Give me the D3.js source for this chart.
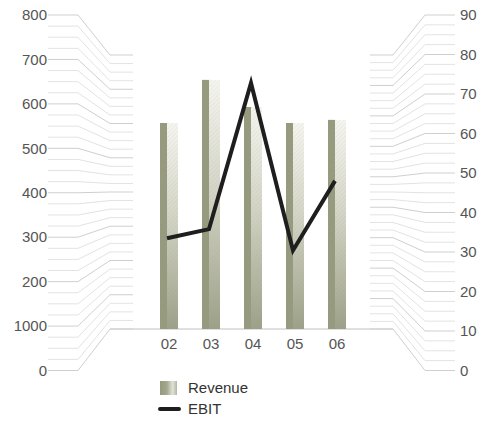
<!DOCTYPE html>
<html>
<head>
<meta charset="utf-8">
<script src="https://cdn.jsdelivr.net/npm/d3@7/dist/d3.min.js"></script>
<style>
  body { margin: 0; background: #fff; }
  text { font-family: "Liberation Sans", Arial, sans-serif; }
</style>
</head>
<body>
<script>
// chart data
const years = ["02", "03", "04", "05", "06"];
const revenue = [557, 654, 593, 557, 564];
const ebit = [33.5, 35.8, 72.8, 30.4, 48];
const leftTickLabels = ["0", "1000", "200", "300", "400", "500", "600", "700", "800"];
const rightTickLabels = ["0", "10", "20", "30", "40", "50", "60", "70", "80", "90"];

const width = 481, height = 423;

const svg = d3.select("body").append("svg")
  .attr("width", width)
  .attr("height", height);

// outer scales (where the labels sit) and inner scales (the back wall)
const yLeftOuter = d3.scaleLinear().domain([0, 800]).range([370.5, 15]);
const yLeftInner = d3.scaleLinear().domain([0, 800]).range([329, 55]);
const yRightOuter = d3.scaleLinear().domain([0, 90]).range([370.5, 15]);
const yRightInner = d3.scaleLinear().domain([0, 90]).range([329, 55]);
const x = d3.scalePoint().domain(years).range([169, 337]);

const defs = svg.append("defs");

let grad = defs.append("linearGradient")
  .attr("id", "barLight")
  .attr("x1", 0).attr("y1", 0).attr("x2", 0).attr("y2", 1);
grad.append("stop").attr("offset", "0%").attr("stop-color", "#f6f6f1");
grad.append("stop").attr("offset", "45%").attr("stop-color", "#d4d5c6");
grad.append("stop").attr("offset", "100%").attr("stop-color", "#9da189");

let hatch = defs.append("pattern")
  .attr("id", "hatch")
  .attr("width", 3).attr("height", 3)
  .attr("patternUnits", "userSpaceOnUse")
  .attr("patternTransform", "rotate(45)");
hatch.append("line")
  .attr("x1", 0).attr("y1", 0).attr("x2", 0).attr("y2", 3)
  .attr("stroke", "#8c9075")
  .attr("stroke-opacity", 0.18)
  .attr("stroke-width", 1);

let legGrad = defs.append("linearGradient")
  .attr("id", "legendGrad")
  .attr("x1", 0).attr("y1", 0).attr("x2", 1).attr("y2", 0);
legGrad.append("stop").attr("offset", "0%").attr("stop-color", "#959a7d");
legGrad.append("stop").attr("offset", "40%").attr("stop-color", "#a4a78e");
legGrad.append("stop").attr("offset", "75%").attr("stop-color", "#e2e3d8");
legGrad.append("stop").attr("offset", "100%").attr("stop-color", "#b3b69f");

// bent gridlines, left side
const leftTicks = d3.range(0, 801, 25);
svg.append("g").selectAll("path")
  .data(leftTicks)
  .join("path")
  .attr("fill", "none")
  .attr("stroke", d => d % 100 == 0 ? "#cfcfcf" : "#e3e3e3")
  .attr("stroke-width", 1)
  .attr("d", d => "M48," + yLeftOuter(d) + "H78L110," + yLeftInner(d) + "H133");

svg.append("g").selectAll("text")
  .data(leftTickLabels)
  .join("text")
  .attr("x", 47)
  .attr("y", (d, i) => yLeftOuter(i * 100))
  .attr("dy", "0.35em")
  .attr("text-anchor", "end")
  .attr("font-size", 15)
  .attr("fill", "#555")
  .text(d => d);

// bent gridlines, right side
const rightTicks = d3.range(0, 90.1, 2.5);
svg.append("g").selectAll("path")
  .data(rightTicks)
  .join("path")
  .attr("fill", "none")
  .attr("stroke", d => d % 10 == 0 ? "#cfcfcf" : "#e3e3e3")
  .attr("stroke-width", 1)
  .attr("d", d => "M370," + yRightInner(d) + "H393L425," + yRightOuter(d) + "H455");

svg.append("g").selectAll("text")
  .data(rightTickLabels)
  .join("text")
  .attr("x", 460)
  .attr("y", (d, i) => yRightOuter(i * 10))
  .attr("dy", "0.35em")
  .attr("font-size", 15)
  .attr("fill", "#555")
  .text(d => d);

// floor line
svg.append("line")
  .attr("x1", 110).attr("x2", 393)
  .attr("y1", yLeftInner(0)).attr("y2", yLeftInner(0))
  .attr("stroke", "#d6d6d6")
  .attr("stroke-width", 1.5);

// bars
const barW = 18, darkW = 7;
const base = yLeftInner(0);
const bars = svg.append("g").selectAll("g")
  .data(years.map((y, i) => ({ year: y, value: revenue[i] })))
  .join("g")
  .attr("transform", d => "translate(" + (x(d.year) - barW / 2) + ",0)");

bars.append("rect")
  .attr("x", 0)
  .attr("y", d => yLeftOuter(d.value))
  .attr("width", darkW)
  .attr("height", d => base - yLeftOuter(d.value))
  .attr("fill", "#969a7e");
bars.append("rect")
  .attr("x", darkW)
  .attr("y", d => yLeftOuter(d.value))
  .attr("width", barW - darkW)
  .attr("height", d => base - yLeftOuter(d.value))
  .attr("fill", "url(#barLight)");
bars.append("rect")
  .attr("x", darkW)
  .attr("y", d => yLeftOuter(d.value))
  .attr("width", barW - darkW)
  .attr("height", d => base - yLeftOuter(d.value))
  .attr("fill", "url(#hatch)");

// EBIT line
const line = d3.line()
  .x((d, i) => x(years[i]) - 2)
  .y(d => yRightOuter(d));

svg.append("path")
  .datum(ebit)
  .attr("fill", "none")
  .attr("stroke", "#1e1e1e")
  .attr("stroke-width", 4)
  .attr("stroke-linejoin", "miter")
  .attr("d", line);

// last bar sits in front of the line end, like the source
bars.filter((d, i) => i == years.length - 1).raise();

// x labels
svg.append("g").selectAll("text")
  .data(years)
  .join("text")
  .attr("x", d => x(d))
  .attr("y", 349)
  .attr("text-anchor", "middle")
  .attr("font-size", 15)
  .attr("fill", "#555")
  .text(d => d);

// legend
svg.append("rect")
  .attr("x", 160).attr("y", 381)
  .attr("width", 17).attr("height", 14)
  .attr("fill", "url(#legendGrad)");
svg.append("text")
  .attr("x", 188).attr("y", 388)
  .attr("dy", "0.35em")
  .attr("font-size", 15)
  .attr("fill", "#333")
  .text("Revenue");

svg.append("line")
  .attr("x1", 160).attr("x2", 179)
  .attr("y1", 409).attr("y2", 409)
  .attr("stroke", "#1e1e1e")
  .attr("stroke-width", 4)
  .attr("stroke-linecap", "round");
svg.append("text")
  .attr("x", 188).attr("y", 409)
  .attr("dy", "0.35em")
  .attr("font-size", 15)
  .attr("fill", "#333")
  .text("EBIT");
</script>
</body>
</html>
